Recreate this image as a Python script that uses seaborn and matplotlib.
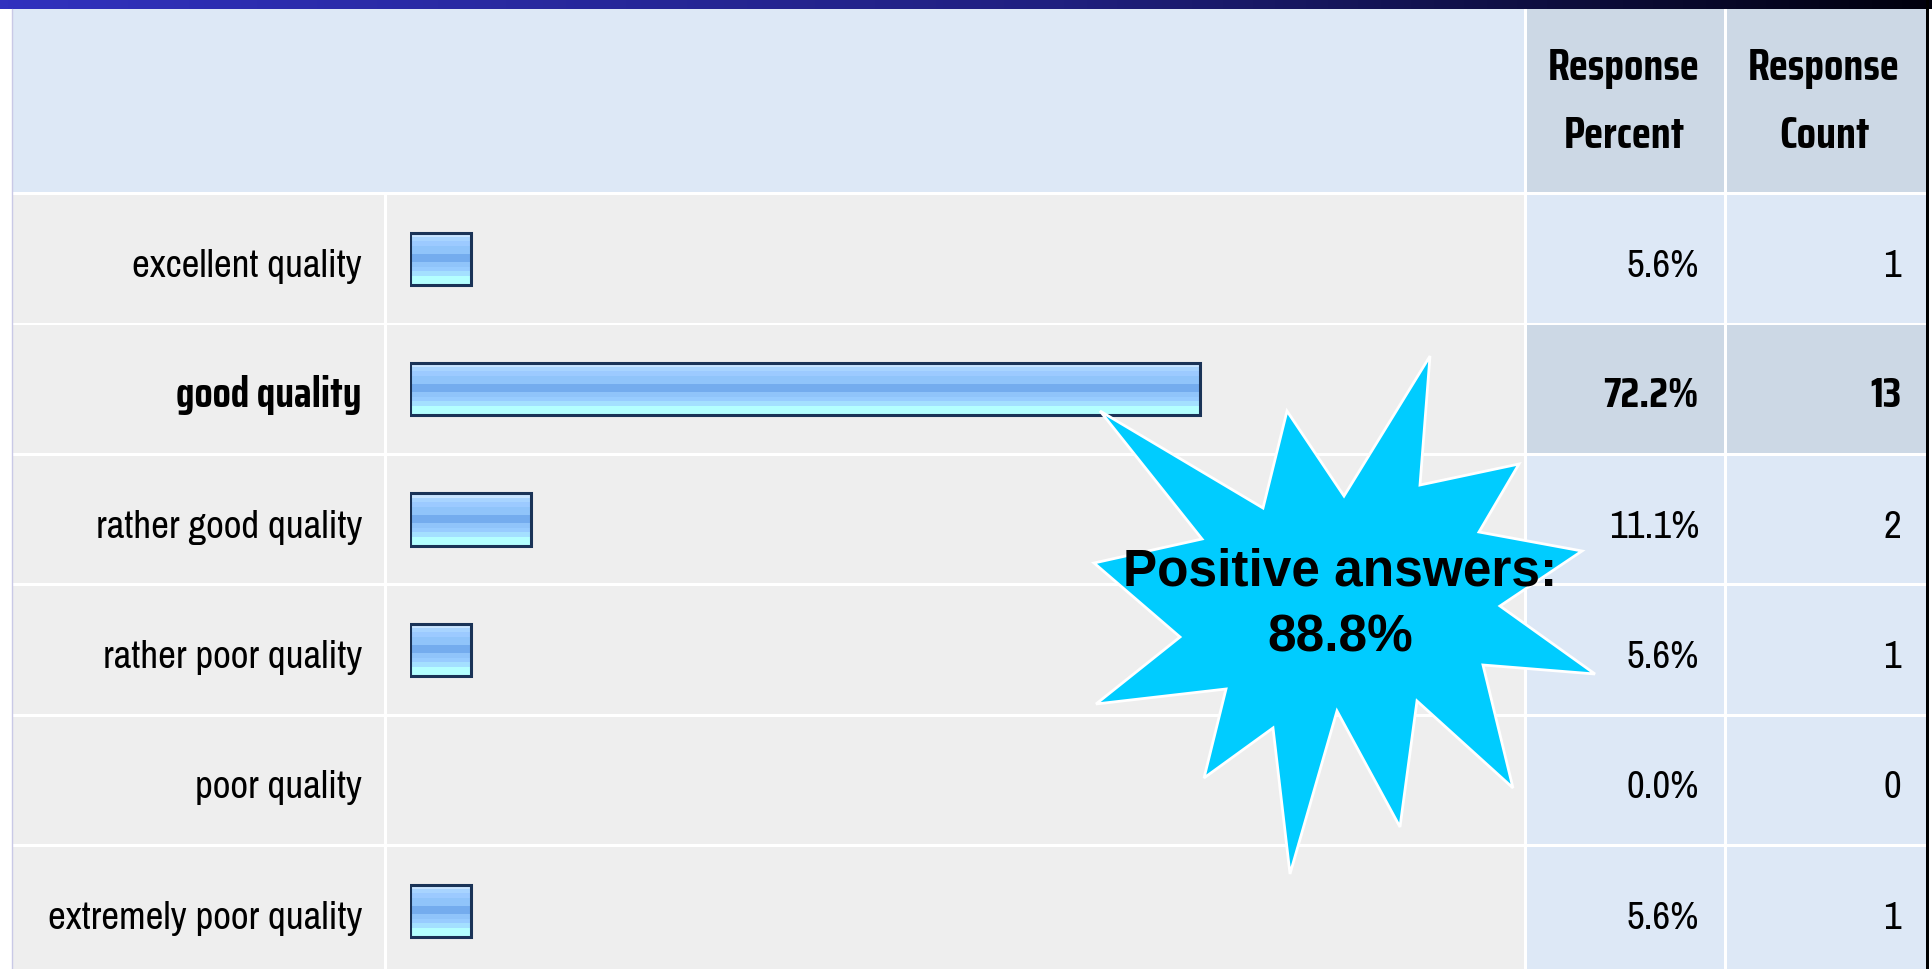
# ==================================================
# survey result table: quality rating with callout
# ==================================================
import numpy as np
import pandas as pd
import matplotlib
matplotlib.use("Agg")
import matplotlib.pyplot as plt
from matplotlib.patches import Rectangle, Polygon
from matplotlib.colors import LinearSegmentedColormap, to_rgb
import seaborn as sns

labels = [
    "excellent quality",
    "good quality",
    "rather good quality",
    "rather poor quality",
    "poor quality",
    "extremely poor quality",
]
percents = [5.6, 72.2, 11.1, 5.6, 0.0, 5.6]
counts = [1, 13, 2, 1, 0, 1]
highlight = "good quality"

header_percent = ["Response", "Percent"]
header_count = ["Response", "Count"]
callout = ["Positive answers:", "88.8%"]

sns.set_theme(style="white")
plt.rcParams["font.family"] = ["Archivo Narrow", "Liberation Sans", "DejaVu Sans"]
# narrow family that actually ships a bold face
BOLD = ["Saira Condensed", "Liberation Sans", "DejaVu Sans"]

W, H = 1932, 969
fig = plt.figure(figsize=(W / 100, H / 100), dpi=100)
fig.patch.set_facecolor("white")

# background axes in pixel units
bg = fig.add_axes([0, 0, 1, 1])
bg.axis("off")

band = LinearSegmentedColormap.from_list(
    "band", [(0, "#3131be"), (0.55, "#20207f"), (0.8, "#0e0e40"), (1, "#00000c")]
)
bg.imshow(np.linspace(0, 1, 256)[None, :], cmap=band,
          extent=(0, W, 9, 0), aspect="auto")

# header
bg.add_patch(Rectangle((12, 9), 1524 - 12, 183, color="#dde8f6", lw=0))
bg.add_patch(Rectangle((1527, 9), 197, 183, color="#ccd8e5", lw=0))
bg.add_patch(Rectangle((1727, 9), 199, 183, color="#ccd8e5", lw=0))

fs = 28
for txt, yb in zip(header_percent, [80, 148]):
    bg.text(1624, yb, txt, ha="center", va="baseline", fontsize=32,
            fontweight="bold", family=BOLD, color="black")
for txt, yb in zip(header_count, [80, 148]):
    bg.text(1824, yb, txt, ha="center", va="baseline", fontsize=32,
            fontweight="bold", family=BOLD, color="black")

# rows
pitch = 130.4
row_h = 127.5
for i, lab in enumerate(labels):
    top = 195 + i * pitch
    hl = lab == highlight
    val_col = "#ccd8e5" if hl else "#dde8f6"
    bg.add_patch(Rectangle((13, top), 384 - 13, row_h, color="#eeeeee", lw=0))
    bg.add_patch(Rectangle((387, top), 1524 - 387, row_h, color="#eeeeee", lw=0))
    bg.add_patch(Rectangle((1527, top), 197, row_h, color=val_col, lw=0))
    bg.add_patch(Rectangle((1727, top), 199, row_h, color=val_col, lw=0))

    yb = top + row_h / 2 + 18
    kw = dict(fontweight="bold", family=BOLD, fontsize=30) if hl else dict(fontsize=fs)
    bg.text(362, yb, lab, ha="right", va="baseline", color="black", **kw)
    bg.text(1699, yb, f"{percents[i]:.1f}%", ha="right", va="baseline",
            color="black", **kw)
    bg.text(1901, yb, f"{counts[i]}", ha="right", va="baseline",
            color="black", **kw)

bg.plot([12, 12], [9, H], color="#c9c9e6", lw=1)
bg.add_patch(Rectangle((1926, 0), 3, H, color="black", lw=0))
bg.set_xlim(0, W)
bg.set_ylim(H, 0)

# bar axes (percent scale)
x_left = 409.5
px_per_pct = 10.95
y_top = 195 + row_h / 2 - pitch / 2
ax_h = pitch * len(labels)
ax = fig.add_axes([x_left / W, (H - y_top - ax_h) / H,
                   100 * px_per_pct / W, ax_h / H])
ax.patch.set_alpha(0)

df = pd.DataFrame({"answer": labels, "percent": percents})
sns.barplot(data=df, x="percent", y="answer", orient="h", ax=ax,
            width=0.4, color="#90c4fa", edgecolor="#1a3357",
            linewidth=2.2, errorbar=None)

stripes = (["#c8e4ff"] * 4 + ["#a8d4ff"] * 4 + ["#9ccaff"] * 4 +
           ["#90c4fa"] * 7 + ["#74acee"] * 7 + ["#90c4fa"] * 4 +
           ["#98ccff"] * 4 + ["#a4e0ff"] * 4 + ["#b4ffff"] * 8)
grad = np.array([to_rgb(c) for c in stripes])[:, None, :]

for p in list(ax.patches):
    w = p.get_width()
    if w <= 0:
        p.set_visible(False)
        continue
    x0, y0, h = p.get_x(), p.get_y(), p.get_height()
    p.set_facecolor("none")
    p.set_zorder(3)
    ax.imshow(grad, extent=(x0, x0 + w, y0 + h, y0), aspect="auto",
              origin="upper", interpolation="nearest", zorder=2)

ax.set_xlim(0, 100)
ax.set_ylim(len(labels) - 0.5, -0.5)
ax.axis("off")

# starburst callout
top_ax = fig.add_axes([0, 0, 1, 1], zorder=5)
top_ax.patch.set_alpha(0)
top_ax.axis("off")
star = [
    (1100, 411), (1263, 508), (1287, 411), (1344, 496), (1430, 356),
    (1420, 485), (1519, 464), (1479, 532), (1582, 551), (1500, 606),
    (1595, 674), (1483, 665), (1513, 788), (1417, 701), (1400, 827),
    (1337, 711), (1290, 874), (1273, 728), (1204, 778), (1226, 689),
    (1096, 704), (1180, 637), (1094, 563), (1202, 539),
]
top_ax.add_patch(Polygon(star, closed=True, facecolor="#00ccff",
                         edgecolor="white", lw=2))
for txt, yb in zip(callout, [586, 652]):
    top_ax.text(1340, yb, txt, ha="center", va="baseline", fontsize=37,
                fontweight="bold", family=["Liberation Sans", "DejaVu Sans"],
                color="black")
top_ax.set_xlim(0, W)
top_ax.set_ylim(H, 0)

fig.savefig("out.png", dpi=100)
